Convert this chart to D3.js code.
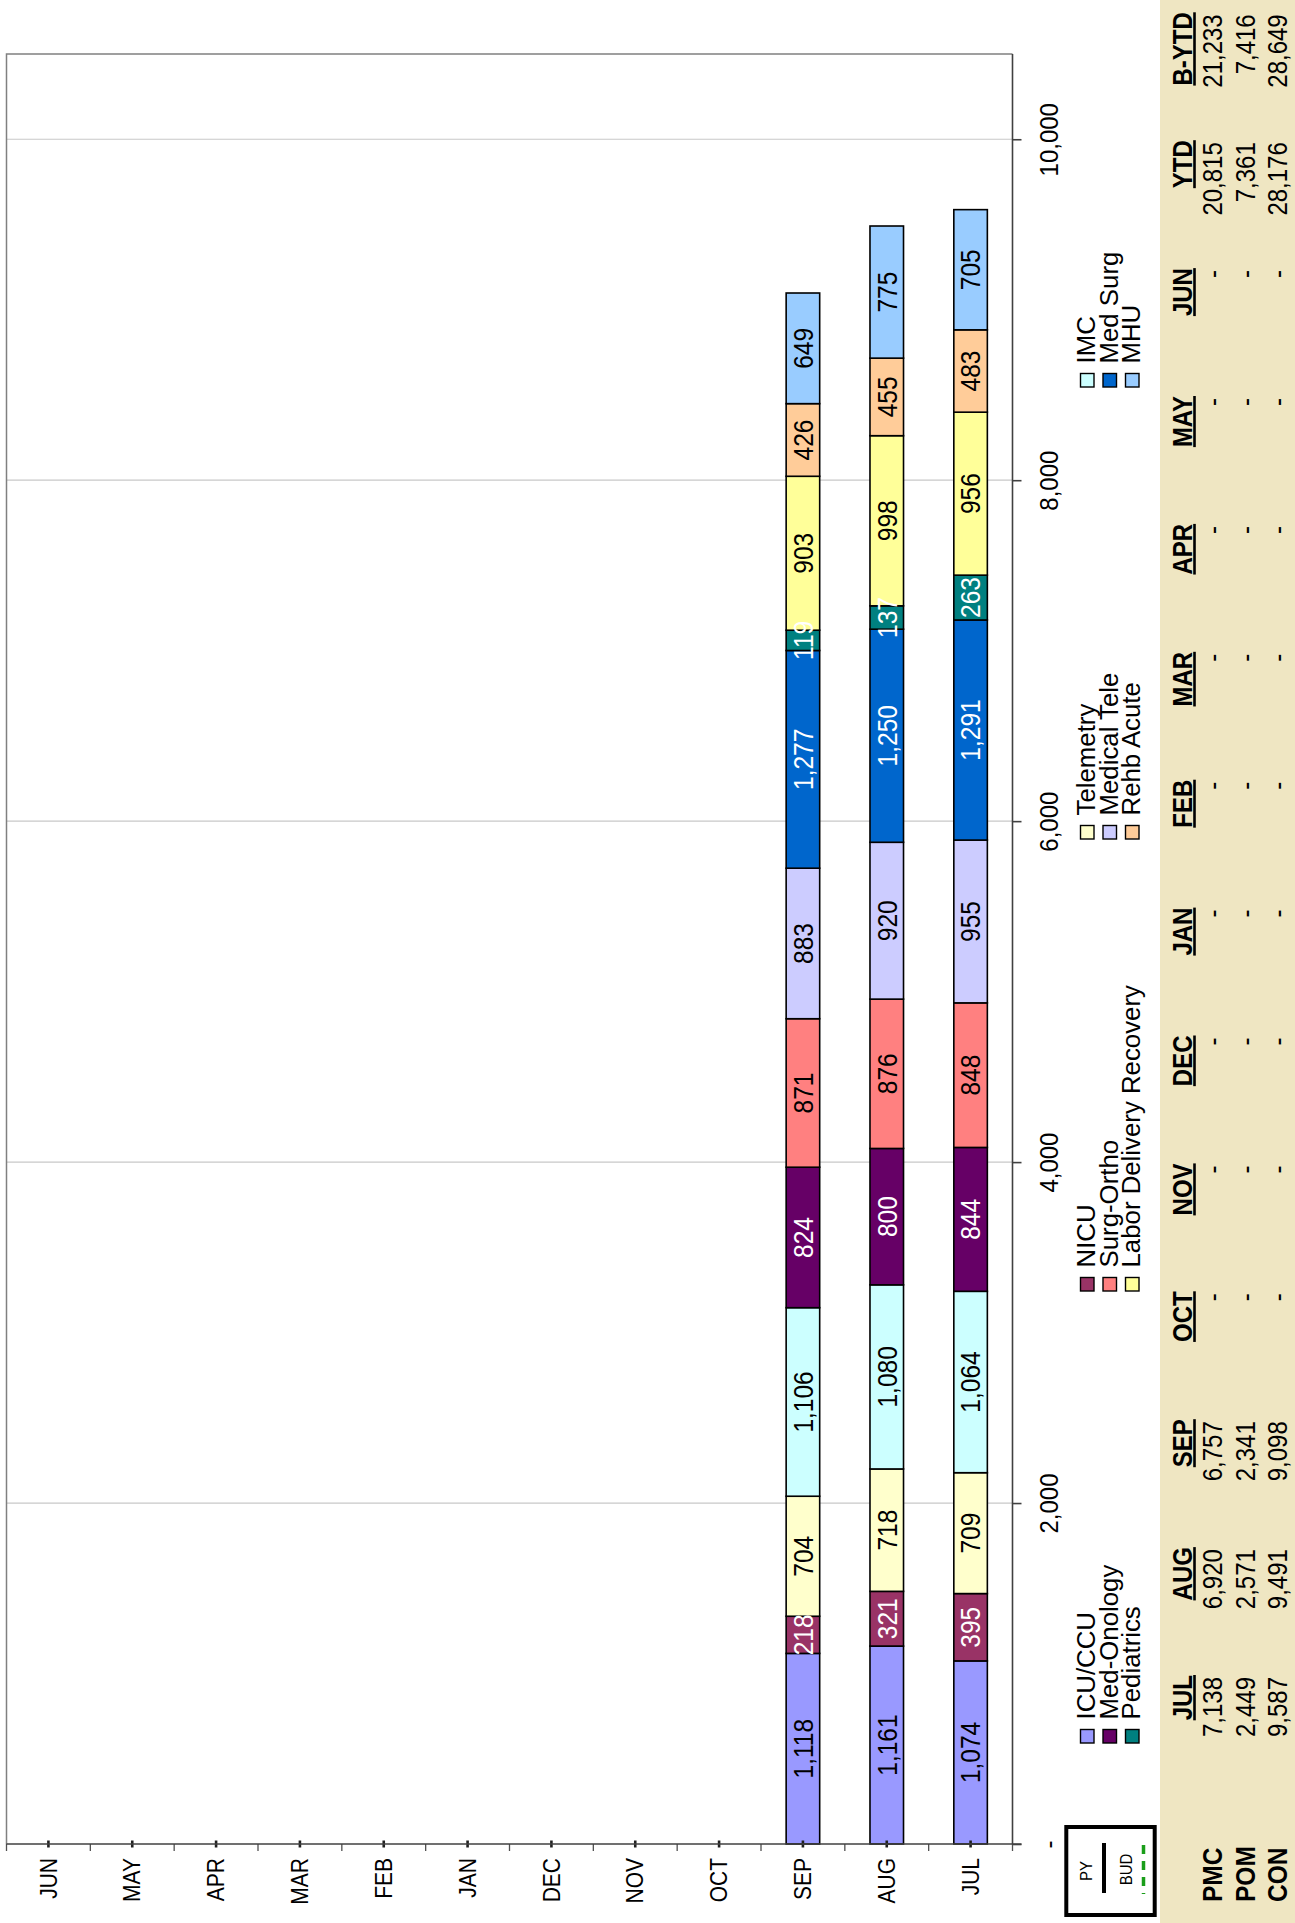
<!DOCTYPE html>
<html>
<head>
<meta charset="utf-8">
<script src="https://cdn.jsdelivr.net/npm/d3@7"></script>
<style>
  html, body { margin: 0; padding: 0; background: #ffffff; }
  svg { display: block; font-family: "Liberation Sans", Arial, sans-serif; }
</style>
</head>
<body>
<svg id="chart" width="1295" height="1923"></svg>
<script>
// ---- Data ---------------------------------------------------------------
const months = ["JUL", "AUG", "SEP", "OCT", "NOV", "DEC", "JAN", "FEB", "MAR", "APR", "MAY", "JUN"];
const units = ["ICU/CCU", "NICU", "Telemetry", "IMC", "Med-Onology", "Surg-Ortho",
               "Medical Tele", "Med Surg", "Pediatrics", "Labor Delivery Recovery", "Rehb Acute", "MHU"];
const unitColors = ["#9999FF", "#993366", "#FFFFCC", "#CCFFFF", "#660066", "#FF8080",
                    "#CCCCFF", "#0066CC", "#008080", "#FFFF99", "#FFCC99", "#99CCFF"];
const darkUnits = ["NICU", "Med-Onology", "Med Surg", "Pediatrics"];

// patient days by unit, in the order of `units`
const julDays = [1074, 395, 709, 1064, 844, 848, 955, 1291, 263, 956, 483, 705];
const augDays = [1161, 321, 718, 1080, 800, 876, 920, 1250, 137, 998, 455, 775];
const sepDays = [1118, 218, 704, 1106, 824, 871, 883, 1277, 119, 903, 426, 649];

const valueTicks = [0, 2000, 4000, 6000, 8000, 10000];

// summary table
const tableCols = ["JUL", "AUG", "SEP", "OCT", "NOV", "DEC", "JAN", "FEB", "MAR", "APR", "MAY", "JUN", "YTD", "B-YTD"];
const tableRows = ["PMC", "POM", "CON"];
const pmcRow = [7138, 6920, 6757, null, null, null, null, null, null, null, null, null, 20815, 21233];
const pomRow = [2449, 2571, 2341, null, null, null, null, null, null, null, null, null, 7361, 7416];
const conRow = [9587, 9491, 9098, null, null, null, null, null, null, null, null, null, 28176, 28649];

// ---- Layout -------------------------------------------------------------
const svg = d3.select("#chart");
const plot = { left: 6.5, right: 1012.5, top: 54, bottom: 1844 };
const fmt = d3.format(",");

// rotated text helper: anchor point is on the baseline, text reads bottom-to-top
function rot(x, y, stretch) {
  return `translate(${x},${y}) rotate(-90) scale(1,${stretch})`;
}

const records = [
  { month: "JUL", vals: julDays },
  { month: "AUG", vals: augDays },
  { month: "SEP", vals: sepDays }
].map(r => {
  const o = { month: r.month };
  units.forEach((u, i) => { o[u] = r.vals[i]; });
  return o;
});

const x = d3.scaleBand()
  .domain(months.slice().reverse())
  .range([plot.left, plot.right])
  .paddingInner(0.6)
  .paddingOuter(0.3);

const y = d3.scaleLinear().domain([0, 10500]).range([plot.bottom, plot.top]);
const color = d3.scaleOrdinal().domain(units).range(unitColors);

// gridlines
svg.append("g")
  .selectAll("line")
  .data(valueTicks.filter(v => v > 0))
  .join("line")
  .attr("x1", plot.left).attr("x2", plot.right)
  .attr("y1", d => y(d)).attr("y2", d => y(d))
  .attr("stroke", "#c8c8c8").attr("stroke-width", 1.2);

// plot frame (top and left)
svg.append("path")
  .attr("d", `M${plot.left},${plot.bottom} V${plot.top} H${plot.right}`)
  .attr("fill", "none").attr("stroke", "#808080").attr("stroke-width", 1.5);

// stacked bars
const series = d3.stack().keys(units)(records);
const bw = x.bandwidth();

const layers = svg.append("g").selectAll("g")
  .data(series)
  .join("g")
  .attr("fill", d => color(d.key));

layers.selectAll("rect")
  .data(d => d)
  .join("rect")
  .attr("x", d => x(d.data.month))
  .attr("width", bw)
  .attr("y", d => y(d[1]))
  .attr("height", d => y(d[0]) - y(d[1]))
  .attr("stroke", "#000").attr("stroke-width", 1.6);

// segment value labels
const labelG = svg.append("g");
series.forEach(s => {
  s.forEach(d => {
    labelG.append("text")
      .attr("transform", rot(x(d.data.month) + bw / 2, y((d[0] + d[1]) / 2), 1.14))
      .attr("text-anchor", "middle")
      .attr("dy", "0.35em")
      .attr("font-size", 24.5)
      .attr("fill", darkUnits.includes(s.key) ? "#ffffff" : "#000000")
      .text(fmt(d[1] - d[0]));
  });
});

// value axis on the right side
const yAxis = svg.append("g")
  .attr("transform", `translate(${plot.right},0)`)
  .call(d3.axisRight(y).tickValues(valueTicks).tickSize(9).tickSizeOuter(0)
    .tickFormat(d => d === 0 ? "-" : fmt(d)));
yAxis.select(".domain").attr("stroke", "#404040").attr("stroke-width", 1.6)
  .attr("d", `M0,${plot.top}V${plot.bottom}`);
yAxis.selectAll(".tick line").attr("stroke", "#404040").attr("stroke-width", 1.6);
yAxis.selectAll(".tick text")
  .attr("x", null).attr("dy", "0.35em")
  .attr("transform", "translate(36,0) rotate(-90) scale(1,1.1)")
  .attr("text-anchor", "middle")
  .attr("font-size", 24)
  .attr("font-family", "Liberation Sans, Arial, sans-serif")
  .attr("fill", "#000");

// category axis along the bottom
const xAxis = svg.append("g")
  .attr("transform", `translate(0,${plot.bottom})`)
  .call(d3.axisBottom(x).tickSizeOuter(0));
xAxis.select(".domain").remove();
xAxis.selectAll(".tick line")
  .attr("y1", -3.5).attr("y2", 3.5)
  .attr("stroke", "#202020").attr("stroke-width", 2.6);
xAxis.selectAll(".tick text")
  .attr("y", null).attr("dy", "0.35em")
  .attr("transform", "translate(0,14) rotate(-90) scale(1,1.12)")
  .attr("text-anchor", "end")
  .attr("font-size", 21)
  .attr("font-family", "Liberation Sans, Arial, sans-serif")
  .attr("fill", "#000");

// boundary ticks between the categories
const bounds = x.domain().map(m => x(m) + bw / 2 - x.step() / 2).concat([plot.right]);
xAxis.append("g").selectAll("line")
  .data(bounds)
  .join("line")
  .attr("x1", d => d).attr("x2", d => d)
  .attr("y1", 0).attr("y2", 7)
  .attr("stroke", "#505050").attr("stroke-width", 1.3);
xAxis.append("line")
  .attr("x1", plot.left).attr("x2", plot.right + 9)
  .attr("y1", 0).attr("y2", 0)
  .attr("stroke", "#404040").attr("stroke-width", 1.6);

// ---- Legend (3 rows x 4 columns, column-major by unit order) ------------
const legend = svg.append("g");
units.forEach((u, i) => {
  const col = i % 4, row = Math.floor(i / 4);
  const cy = 1736.5 - col * 452;
  const bx = 1095 + row * 22.5;
  legend.append("rect")
    .attr("x", bx - 14.5).attr("y", cy - 7)
    .attr("width", 13.5).attr("height", 13.5)
    .attr("fill", color(u)).attr("stroke", "#000").attr("stroke-width", 1.4);
  legend.append("text")
    .attr("transform", rot(bx, cy - 17, 1.0))
    .attr("text-anchor", "start")
    .attr("font-size", 25.8)
    .attr("fill", "#000")
    .text(u);
});

// ---- PY / BUD key box ---------------------------------------------------
const key = svg.append("g");
key.append("rect")
  .attr("x", 1066.3).attr("y", 1827).attr("width", 88.4).attr("height", 88)
  .attr("fill", "#fff").attr("stroke", "#000").attr("stroke-width", 4);
key.append("text")
  .attr("transform", rot(1092, 1871, 1.1))
  .attr("text-anchor", "middle").attr("font-size", 15).text("PY");
key.append("line")
  .attr("x1", 1104).attr("x2", 1104).attr("y1", 1843).attr("y2", 1893)
  .attr("stroke", "#000").attr("stroke-width", 4);
key.append("text")
  .attr("transform", rot(1132, 1869.5, 1.1))
  .attr("text-anchor", "middle").attr("font-size", 15).text("BUD");
key.append("line")
  .attr("x1", 1143.5).attr("x2", 1143.5).attr("y1", 1845).attr("y2", 1894)
  .attr("stroke", "#1a9e1a").attr("stroke-width", 3.5).attr("stroke-dasharray", "9,7");

// ---- Summary table ------------------------------------------------------
const table = svg.append("g");
table.append("rect")
  .attr("x", 1160).attr("y", 0).attr("width", 135).attr("height", 1923)
  .attr("fill", "#EFE6C2");

const colEnd = i => 1675 - i * 127.9;
const headerBase = 1192;
const rowBase = [1222, 1254.5, 1287];
const rowData = [pmcRow, pomRow, conRow];

tableCols.forEach((c, i) => {
  const t = table.append("text")
    .attr("transform", rot(headerBase, colEnd(i), 1.12))
    .attr("text-anchor", "end")
    .attr("font-size", 24).attr("font-weight", "bold")
    .attr("fill", "#000")
    .text(c);
  const len = t.node().getComputedTextLength();
  table.append("line")
    .attr("x1", headerBase + 2.5).attr("x2", headerBase + 2.5)
    .attr("y1", colEnd(i)).attr("y2", colEnd(i) + len)
    .attr("stroke", "#000").attr("stroke-width", 2.6);
});

tableRows.forEach((r, ri) => {
  table.append("text")
    .attr("transform", rot(rowBase[ri], 1902, 1.13))
    .attr("text-anchor", "start")
    .attr("font-size", 24.5).attr("font-weight", "bold")
    .attr("fill", "#000")
    .text(r);
  rowData[ri].forEach((v, ci) => {
    table.append("text")
      .attr("transform", rot(rowBase[ri], colEnd(ci) + 2, 1.15))
      .attr("text-anchor", "end")
      .attr("font-size", 24)
      .attr("fill", "#000")
      .text(v === null ? "-" : fmt(v));
  });
});
</script>
</body>
</html>
